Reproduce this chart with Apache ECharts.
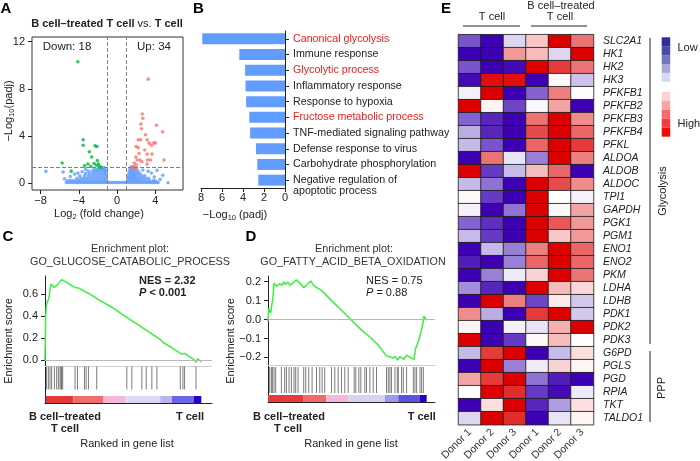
<!DOCTYPE html>
<html><head><meta charset="utf-8">
<script src="https://cdn.jsdelivr.net/npm/echarts@6/dist/echarts.min.js"></script>
<style>html,body{margin:0;padding:0;background:#fff}#c{width:700px;height:461px}</style>
</head><body><div id="c"></div>
<script>
// ---------------- DATA ----------------
// Panel A: volcano (log2FC, -log10 padj)
const volcanoDown = [[-4.1,10.3],[-3.55,3.66],[-3.55,3.2],[-5.75,1.7],[-4.8,1.0],[-2.3,3.15],[-2.1,3.1],[-2.9,2.65],[-2.65,2.2],[-2.75,1.4],[-3.05,1.6],[-2.4,1.65],[-2.05,1.9],[-1.95,1.6],[-2.15,1.5],[-1.8,1.4],[-3.4,1.45],[-1.7,1.32]];
const volcanoUp = [[3.26,8.82],[2.64,5.86],[2.7,5.5],[4.12,4.9],[4.78,4.34],[2.5,5.0],[2.56,4.6],[2.22,3.66],[2.46,3.66],[2.98,4.1],[3.15,3.66],[3.36,3.38],[3.84,3.38],[4.0,3.4],[3.6,3.2],[2.0,3.1],[2.2,3.0],[2.9,2.8],[3.15,2.45],[3.66,2.45],[2.3,2.5],[1.97,2.2],[2.1,1.95],[2.4,1.95],[1.8,1.7],[2.0,1.55],[2.6,1.8],[3.2,1.95],[3.5,1.95],[4.9,1.95],[3.15,1.6],[1.7,1.4],[1.6,1.3],[2.0,1.3]];
const volcanoNs = [
 [-5.3,0.04],[-5.1,0.04],[-4.9,0.04],[-4.7,0.04],[-4.5,0.04],[-4.3,0.04],[-4.1,0.04],[-3.9,0.04],[-3.7,0.04],[-3.5,0.04],[-3.3,0.04],[-3.1,0.04],[-2.9,0.04],[-2.7,0.04],[-2.5,0.04],[-2.3,0.04],[-2.1,0.04],[-1.9,0.04],[-1.7,0.04],[-1.5,0.04],[-1.3,0.04],[-1.1,0.04],[-0.9,0.04],[-0.7,0.04],[-0.5,0.04],[-0.3,0.04],[-0.1,0.04],[0.1,0.04],[0.3,0.04],[0.5,0.04],[0.7,0.04],[0.9,0.04],[1.1,0.04],[1.3,0.04],[1.5,0.04],[1.7,0.04],[1.9,0.04],[2.1,0.04],[2.3,0.04],[2.5,0.04],[2.7,0.04],[2.9,0.04],[3.1,0.04],[3.3,0.04],[3.5,0.04],[3.7,0.04],[3.9,0.04],[4.1,0.04],[4.3,0.04],
 [-5.2,0.18],[-4.9,0.22],[-4.6,0.2],[-4.3,0.2],[-4.0,0.2],[-3.7,0.2],[-3.4,0.2],[-3.1,0.2],[-2.8,0.2],[-2.5,0.2],[-2.2,0.2],[-1.9,0.2],[-1.6,0.2],[-1.3,0.2],[-1.1,0.2],
 [-4.2,0.4],[-3.8,0.4],[-3.5,0.4],[-3.2,0.4],[-2.9,0.4],[-2.6,0.4],[-2.3,0.4],[-2.0,0.4],[-1.7,0.4],[-1.4,0.4],[-1.15,0.4],
 [-3.9,0.6],[-3.4,0.6],[-3.0,0.6],[-2.7,0.6],[-2.4,0.6],[-2.1,0.6],[-1.8,0.6],[-1.5,0.6],[-1.2,0.6],
 [-3.3,0.8],[-2.9,0.8],[-2.5,0.8],[-2.2,0.8],[-1.9,0.8],[-1.6,0.8],[-1.3,0.8],[-1.1,0.8],
 [-3.0,1.0],[-2.6,1.0],[-2.3,1.0],[-2.0,1.0],[-1.7,1.0],[-1.4,1.0],[-1.2,1.0],
 [-2.4,1.15],[-2.1,1.15],[-1.8,1.15],[-1.5,1.15],[-1.25,1.15],
 [-1.9,1.3],[-1.6,1.3],[-1.35,1.3],
 [-7.45,0.98],[-5.65,0.93],[-5.5,0.35],[-4.9,0.55],[-4.45,0.75],[-3.65,0.95],[-4.1,0.85],[-3.3,1.15],
 [1.1,0.2],[1.3,0.2],[1.5,0.2],[1.7,0.2],[1.9,0.2],[2.1,0.2],[2.3,0.2],[2.5,0.2],[2.8,0.2],[3.1,0.2],[3.4,0.2],[3.8,0.2],
 [1.15,0.4],[1.35,0.4],[1.55,0.4],[1.75,0.4],[1.95,0.4],[2.2,0.4],[2.45,0.4],[2.7,0.4],[3.0,0.4],[3.3,0.4],
 [1.2,0.6],[1.4,0.6],[1.6,0.6],[1.8,0.6],[2.0,0.6],[2.3,0.6],[2.6,0.6],[2.9,0.6],
 [1.25,0.8],[1.45,0.8],[1.65,0.8],[1.85,0.8],[2.1,0.8],[2.4,0.8],
 [1.3,1.0],[1.5,1.0],[1.7,1.0],[1.9,1.0],[2.2,1.0],
 [1.35,1.2],[1.55,1.2],[1.75,1.2],[2.0,1.2],
 [1.45,1.35],[1.7,1.35],
 [4.78,0.65],[4.19,1.07],[5.33,0.02],[3.6,0.85],[3.9,0.5],[4.5,0.3],[3.25,1.0],[2.7,1.1],[4.05,0.15]
];
const volcanoTicksX = [-8,-4,0,4];
const volcanoTicksY = [0,4,8,12];
const fcCutoffs = [-1, 1];
const padjCutoff = 1.3;

// Panel B: GO terms
const goTerms = ['Canonical glycolysis','Immune response','Glycolytic process','Inflammatory response','Response to hypoxia','Fructose metabolic process','TNF-mediated signaling pathway','Defense response to virus','Carbohydrate phosphorylation','Negative regulation of\napoptotic process'];
const goValues = [7.88, 4.35, 3.8, 3.76, 3.7, 3.4, 3.32, 2.76, 2.64, 2.54];
const goHighlighted = [true,false,true,false,false,true,false,false,false,false];

// Panel C: GSEA glucose catabolic (rank %, ES)
const gseaCurveC = [[0,0.0],[0.4,0.40],[0.8,0.49],[1.2,0.52],[2,0.55],[2.6,0.58],[3,0.64],[3.6,0.69],[4.6,0.675],[5.6,0.66],[6.6,0.675],[7.6,0.685],[8.6,0.70],[10,0.73],[11,0.73],[13,0.705],[16,0.675],[18,0.66],[20,0.655],[23,0.63],[25.4,0.61],[27,0.60],[30,0.57],[33,0.54],[39,0.49],[45,0.43],[51,0.37],[57,0.31],[63,0.25],[69,0.19],[71,0.16],[75,0.124],[80,0.076],[82,0.058],[83.6,0.064],[86,0.04],[89,0.01],[90.4,-0.015],[91.4,0.015],[92.4,0.003],[93.6,-0.012]];
const gseaHitsC = [1,2,3,4,5.6,7,8,9,9.6,10,10.6,18,19.4,23.6,24.6,26,31,49,52,58,60.6,64,67,81,82.6,83.6,90.4];
const rankBoundsC = [0.4,17,35,48,69,76,89,93.6];
const gseaTicksC = [0,0.2,0.4,0.6];

// Panel D: GSEA fatty acid beta oxidation
const gseaCurveD = [[0,-0.012],[0.4,0.058],[1.6,0.035],[2.4,0.084],[3,0.12],[3.6,0.193],[5,0.175],[6,0.168],[7,0.19],[8.4,0.18],[9.4,0.2],[10.4,0.186],[12,0.198],[13,0.18],[14.4,0.19],[15.6,0.198],[17,0.21],[18,0.204],[19,0.193],[20,0.198],[21.4,0.168],[22.6,0.18],[24.4,0.193],[25.6,0.204],[26.6,0.19],[28,0.175],[32,0.154],[34,0.137],[38,0.10],[44,0.049],[50,-0.004],[56,-0.056],[62,-0.1],[66,-0.135],[69,-0.17],[71,-0.193],[73,-0.196],[75,-0.205],[76,-0.193],[77.6,-0.214],[79,-0.196],[80,-0.205],[81.4,-0.21],[83,-0.188],[84,-0.179],[86,-0.205],[87.4,-0.21],[88.4,-0.153],[89.6,-0.126],[90.6,-0.1],[91.4,-0.074],[92,-0.065],[92.6,-0.03],[93.4,0.018],[94.4,0.01],[95,-0.004]];
const gseaHitsD = [1,2,2.6,3.6,4.6,8,10,11,12.6,14,15.6,16.6,18,21.4,22.6,24.4,26.4,29,31,32.4,34,38,40,42,44,46,48,51.6,52.6,54.4,55.6,58,59,61,63,65,71,72,73,74,76,77.4,78,80,81,83,87,88,89,91,92,93];
const rankBoundsD = [0,21,35,48,70,78,91,95];
const gseaTicksD = [-0.2,-0.1,0,0.1,0.2];

// Panel E: heatmap
const donors = ['Donor 1','Donor 2','Donor 3','Donor 1','Donor 2','Donor 3'];
const genes = ['SLC2A1','HK1','HK2','HK3','PFKFB1','PFKFB2','PFKFB3','PFKFB4','PFKL','ALDOA','ALDOB','ALDOC','TPI1','GAPDH','PGK1','PGM1','ENO1','ENO2','PKM','LDHA','LDHB','PDK1','PDK2','PDK3','G6PD','PGLS','PGD','RPIA','TKT','TALDO1'];
const heatValues = [
 [-1.2,-2,-0.3,0.5,2,1.2],
 [-2,-2,0.9,0.6,-0.3,2],
 [-1.2,-2,-1.9,2,1.6,1.2],
 [-1.9,1.9,1.9,-2,0.05,-0.45],
 [-0.1,2,-2,-1.1,1.1,0.02],
 [2,0.1,-1.3,-0.05,0.8,-2],
 [-1.1,-1.6,-2,1.2,2,1.0],
 [-0.6,-1.6,-2,1.5,2,1.3],
 [-0.5,-1.2,-2,1.3,2,1.6],
 [-2,1.2,-0.2,-0.9,2,1.1],
 [2,-1.4,-0.5,0.6,1.3,-2],
 [-0.5,-1.0,-2,2,1.5,1.0],
 [0.05,-1.4,-2,2,0,-0.1],
 [-0.1,-2,-1.0,2,0.05,0.8],
 [-1.1,-1.5,-2,2,1.4,0.9],
 [-0.5,-1.4,-2,2,0.5,0.9],
 [-2,-0.5,-0.9,1.1,2,1.3],
 [-1.7,-2,-0.9,1.3,2,1.3],
 [-2,-0.9,-0.15,0.4,2,1.2],
 [-0.8,-1.6,-2,2,0.6,0.35],
 [-2,2,1.1,-1.3,0.2,-0.4],
 [1.0,-0.6,-2,1.6,2,-0.4],
 [0.1,-2,-0.1,-0.2,0.7,2],
 [2,-2,-1.4,0.05,0.6,0],
 [-0.5,1.6,2,-2,-0.5,0.3],
 [-2,2,-0.9,-0.15,0.4,0.1],
 [0.8,1.6,2,-1.0,-1.7,-2],
 [0,2,1.7,-1.4,-1.9,-0.15],
 [-2,0.3,2,-1.6,-0.7,0.3],
 [-0.3,2,1.7,-2,-0.2,0.1]
];

// ---------------- STYLE ----------------
const FONT = '"Liberation Sans", Arial, Helvetica, sans-serif';
const rankColorsC = ['#e63737','#f06d6d','#f6b7d8','#dcd9f6','#b9b3f2','#6a66e8','#2402cc'];
const rankColorsD = ['#e83a3a','#f06a6a','#f5b8d8','#d6d2f5','#9c98f0','#5a52e2','#2200cc'];
const heatColors = ['#3d00b3','#6a40c4','#b3a3e0','#ffffff','#f5b5b5','#ea6262','#dd0000'];
const legendLow = ['#2e2e9a','#4a4aaa','#7474c0','#a8a8d8','#d8d8ee'];
const legendHigh = ['#fdd2d2','#fca2a2','#f86a6a','#f43a3a','#f00a0a'];

const minus = v => String(v).replace('-', '\u2212');
const tickLbl = {color:'#222', fontSize:11, fontFamily:FONT};
const blackLine = {show:true, onZero:false, lineStyle:{color:'#222', width:1}};
const noLine = {show:false, onZero:false};

function hiddenX(g, max) {
  return {type:'value', gridIndex:g, min:0, max:max, axisLine:noLine, axisTick:{show:false}, axisLabel:{show:false}, splitLine:{show:false}};
}
function T(x, y, text, o) {
  o = o || {};
  const al = o.align || 'center';
  return {type:'text', x:x, y:y, rotation:o.rot || 0, silent:true, z:100,
    style:{text:text, fill:o.color || '#222', fontSize:o.size || 11, fontFamily:FONT,
      fontWeight:o.weight || 'normal', fontStyle:o.style || 'normal',
      align:al, verticalAlign:'middle', textAlign:al, textVerticalAlign:'middle', rich:o.rich}};
}
function L(x1, y1, x2, y2) {
  return {type:'line', silent:true, shape:{x1:x1, y1:y1, x2:x2, y2:y2}, style:{stroke:'#222', lineWidth:1}};
}
function R(x, y, w, h, fill) {
  return {type:'rect', silent:true, shape:{x:x, y:y, width:w, height:h}, style:{fill:fill}};
}
const sub = (w) => ({fontSize:7.5, fontFamily:FONT, fontWeight:w || 'normal', padding:[5,0,0,0], fill:'#222'});
const rn = (s, w, st) => ({fontSize:s, fontFamily:FONT, fontWeight:w || 'normal', fontStyle:st || 'normal', fill:'#222'});

function segs(b) { const r = []; for (let i = 0; i < b.length - 1; i++) r.push([b[i], b[i+1]]); return r; }
function rankBar(bounds, colors, xi, yi) {
  return {type:'custom', xAxisIndex:xi, yAxisIndex:yi, silent:true,
    data: segs(bounds), encode:{x:[0,1]},
    renderItem:(params, api) => {
      const s = api.coord([api.value(0), 1]);
      const e = api.coord([api.value(1), 0]);
      return {type:'rect', shape:{x:s[0], y:s[1], width:e[0]-s[0], height:e[1]-s[1]}, style:{fill:colors[params.dataIndex]}};
    }};
}
function hits(arr, xi, yi, yv, len) {
  return {type:'scatter', xAxisIndex:xi, yAxisIndex:yi, silent:true, symbol:'rect', symbolSize:[0.9, len],
    itemStyle:{color:'#4a4a4a'}, data: arr.map(h => [h, yv])};
}
function esLine(data, xi, yi) {
  return {type:'line', xAxisIndex:xi, yAxisIndex:yi, data:data, showSymbol:false, smooth:false, silent:true,
    lineStyle:{color:'#3df03d', width:1.5}, itemStyle:{color:'#3df03d'},
    markLine:{silent:true, symbol:'none', label:{show:false}, lineStyle:{color:'#b8b8b8', type:'solid', width:1}, data:[{yAxis:0}]}};
}
function esY(g, min, max, ticks) {
  return {type:'value', gridIndex:g, min:min, max:max, axisLine:blackLine,
    axisTick:{show:true, length:4, customValues:ticks, lineStyle:{color:'#222'}},
    axisLabel:Object.assign({customValues:ticks, margin:7, formatter:v => minus(v.toFixed(1))}, tickLbl),
    splitLine:{show:false}};
}
function plainY(g) {
  return {type:'value', gridIndex:g, min:0, max:1, axisLine:blackLine, axisTick:{show:false}, axisLabel:{show:false}, splitLine:{show:false}};
}

const heatData = [];
heatValues.forEach((row, r) => row.forEach((v, c) => heatData.push([c, r, v])));

const G = (o) => Object.assign({outerBoundsMode:'none', containLabel:false}, o);

const option = {
  animation:false, backgroundColor:'#ffffff', textStyle:{fontFamily:FONT},
  grid:[
    G({left:32, top:37, width:151, height:153, show:true, borderColor:'#333', borderWidth:1, backgroundColor:'transparent'}),
    G({left:201, top:31, width:84, height:157}),
    G({left:45, top:276, width:167, height:90}),
    G({left:45, top:366, width:167, height:30}),
    G({left:45, top:396, width:167, height:7}),
    G({left:268, top:276, width:167, height:89}),
    G({left:268, top:365, width:167, height:30}),
    G({left:268, top:395, width:167, height:7}),
    G({left:458.5, top:34.7, width:135, height:390})
  ],
  xAxis:[
    {type:'value', gridIndex:0, min:-8.9, max:6.9, position:'bottom', axisLine:noLine,
     axisTick:{show:true, length:4, customValues:volcanoTicksX, lineStyle:{color:'#222'}},
     axisLabel:Object.assign({customValues:volcanoTicksX, margin:5, formatter:v => minus(v)}, tickLbl), splitLine:{show:false}},
    {type:'value', gridIndex:1, min:0, max:8, interval:2, inverse:true, axisLine:blackLine,
     axisTick:{show:true, length:4, lineStyle:{color:'#222'}}, axisLabel:Object.assign({margin:4}, tickLbl), splitLine:{show:false}},
    Object.assign(hiddenX(2, 100), {axisLine:{show:true, onZero:false, lineStyle:{color:'#cfcfcf', width:1}}}),
    hiddenX(3, 100),
    Object.assign(hiddenX(4, 100), {axisLine:blackLine}),
    Object.assign(hiddenX(5, 100), {axisLine:{show:true, onZero:false, lineStyle:{color:'#cfcfcf', width:1}}}),
    hiddenX(6, 100),
    Object.assign(hiddenX(7, 100), {axisLine:blackLine}),
    {type:'category', gridIndex:8, data:donors, axisLine:noLine, axisTick:{show:false},
     axisLabel:{interval:0, rotate:45, margin:6, color:'#333', fontSize:10.5, fontFamily:FONT}, splitLine:{show:false}}
  ],
  yAxis:[
    {type:'value', gridIndex:0, min:-0.6, max:12.4, position:'left', axisLine:noLine,
     axisTick:{show:true, length:4, customValues:volcanoTicksY, lineStyle:{color:'#222'}},
     axisLabel:Object.assign({customValues:volcanoTicksY, margin:7}, tickLbl), splitLine:{show:false}},
    {type:'category', gridIndex:1, data:goTerms, inverse:true, position:'right', axisLine:blackLine,
     axisTick:{show:true, alignWithLabel:true, length:4, lineStyle:{color:'#222'}},
     axisLabel:{interval:0, margin:8, fontSize:10.7, fontFamily:FONT, lineHeight:10.5,
       color:(v, i) => goHighlighted[i] ? '#ee1c1c' : '#222',
       formatter:(v, i) => (v.indexOf('\n') >= 0 ? ' \n' + v : v)}},
    esY(2, -0.05, 0.763, gseaTicksC),
    plainY(3),
    plainY(4),
    esY(5, -0.24, 0.23, gseaTicksD),
    plainY(6),
    plainY(7),
    {type:'category', gridIndex:8, data:genes, inverse:true, position:'right', axisLine:noLine, axisTick:{show:false},
     axisLabel:{interval:0, margin:9.5, color:'#222', fontSize:10.5, fontStyle:'italic', fontFamily:FONT}}
  ],
  visualMap:{type:'continuous', show:false, min:-2, max:2, seriesIndex:10, inRange:{color:heatColors}},
  series:[
    {type:'scatter', xAxisIndex:0, yAxisIndex:0, data:volcanoNs, symbolSize:3.6, silent:true, itemStyle:{color:'#619CFF'}, z:2},
    {type:'scatter', xAxisIndex:0, yAxisIndex:0, data:volcanoDown, symbolSize:3.6, silent:true, itemStyle:{color:'#00BA38'}, z:2},
    {type:'scatter', xAxisIndex:0, yAxisIndex:0, data:volcanoUp, symbolSize:3.6, silent:true, itemStyle:{color:'#F8766D'}, z:2},
    {type:'bar', xAxisIndex:1, yAxisIndex:1, data:goValues, barWidth:11, silent:true, itemStyle:{color:'#619CFF'}},
    esLine(gseaCurveC, 2, 2),
    hits(gseaHitsC, 3, 3, 0.6, 23),
    rankBar(rankBoundsC, rankColorsC, 4, 4),
    esLine(gseaCurveD, 5, 5),
    hits(gseaHitsD, 6, 6, 0.5, 26),
    rankBar(rankBoundsD, rankColorsD, 7, 7),
    {type:'heatmap', xAxisIndex:8, yAxisIndex:8, data:heatData, silent:true,
     itemStyle:{borderColor:'#1a1a1a', borderWidth:0.8}},
    // cutoff guide lines for the volcano plot
    {type:'line', xAxisIndex:0, yAxisIndex:0, data:[], silent:true, z:5,
     markLine:{silent:true, symbol:'none', label:{show:false}, precision:2,
       lineStyle:{color:'#808080', type:'dashed', width:1},
       data:[[{coord:[fcCutoffs[0], -0.6]}, {coord:[fcCutoffs[0], 12.4]}],
             [{coord:[fcCutoffs[1], -0.6]}, {coord:[fcCutoffs[1], 12.4]}],
             [{coord:[-8.9, padjCutoff]}, {coord:[6.9, padjCutoff]}]]}}
  ],
  graphic:{elements:[
    // panel letters
    T(6, 9, 'A', {size:15, weight:'bold', color:'#000'}),
    T(198.5, 9, 'B', {size:15, weight:'bold', color:'#000'}),
    T(8, 237, 'C', {size:15, weight:'bold', color:'#000'}),
    T(251, 237, 'D', {size:15, weight:'bold', color:'#000'}),
    T(446, 9, 'E', {size:15, weight:'bold', color:'#000'}),
    // A
    T(107, 24, '{b|B cell\u2013treated T cell }{n|vs.}{b| T cell}', {rich:{b:rn(11,'bold'), n:rn(11)}}),
    T(67, 47, 'Down: 18', {size:11.5}),
    T(154, 47, 'Up: 34', {size:11.5}),
    T(9, 111, '{n|\u2212Log}{s|10}{n|(padj)}', {rot:Math.PI/2, rich:{n:rn(11), s:sub()}}),
    T(99, 214, '{n|Log}{s|2}{n| (fold change)}', {rich:{n:rn(11), s:sub()}}),
    // B
    T(235, 215, '{n|\u2212Log}{s|10}{n| (padj)}', {rich:{n:rn(11), s:sub()}}),
    // C
    T(130, 249.3, 'Enrichment plot:', {size:10.8, color:'#333'}),
    T(130, 262.3, 'GO_GLUCOSE_CATABOLIC_PROCESS', {size:10.8, color:'#333'}),
    T(139, 281, 'NES = 2.32', {align:'left', weight:'bold'}),
    T(139, 292.5, '{i|P}{b| < 0.001}', {align:'left', rich:{i:rn(11,'bold','italic'), b:rn(11,'bold')}}),
    T(9, 341, 'Enrichment score', {rot:Math.PI/2}),
    T(65, 416.7, 'B cell\u2013treated', {weight:'bold'}),
    T(65, 429.3, 'T cell', {weight:'bold'}),
    T(190, 416.7, 'T cell', {weight:'bold'}),
    T(127, 444.3, 'Ranked in gene list'),
    // D
    T(354, 249.3, 'Enrichment plot:', {size:10.8, color:'#333'}),
    T(353, 262.3, 'GO_FATTY_ACID_BETA_OXIDATION', {size:10.8, color:'#333'}),
    T(366, 281, 'NES = 0.75', {align:'left'}),
    T(366, 292.5, '{i|P}{n| = 0.88}', {align:'left', rich:{i:rn(11,'normal','italic'), n:rn(11)}}),
    T(231, 341, 'Enrichment score', {rot:Math.PI/2}),
    T(289, 416.7, 'B cell\u2013treated', {weight:'bold'}),
    T(288, 429.3, 'T cell', {weight:'bold'}),
    T(421.7, 416.7, 'T cell', {weight:'bold'}),
    T(351, 444.3, 'Ranked in gene list'),
    // E header
    T(492, 17, 'T cell'),
    T(561, 5.5, 'B cell\u2013treated'),
    T(560, 17, 'T cell'),
    L(463, 26, 520, 26),
    L(531, 26, 587, 26),
    // E brackets
    L(650, 38, 650, 344),
    L(650, 351, 650, 422),
    T(663, 191, 'Glycolysis', {rot:Math.PI/2}),
    T(662, 388, 'PPP', {rot:Math.PI/2}),
    // E legend
    ...legendLow.map((c, i) => R(661.7, 37.3 + i * 8.9, 8.5, 8.9, c)),
    ...legendHigh.map((c, i) => R(661.7, 91.7 + i * 9, 8.5, 9, c)),
    T(677.5, 48, 'Low', {align:'left', size:11}),
    T(677.5, 124, 'High', {align:'left', size:11})
  ]}
};

const chart = echarts.init(document.getElementById('c'), null, {renderer:'canvas', width:700, height:461});
chart.setOption(option);
</script>
</body></html>
